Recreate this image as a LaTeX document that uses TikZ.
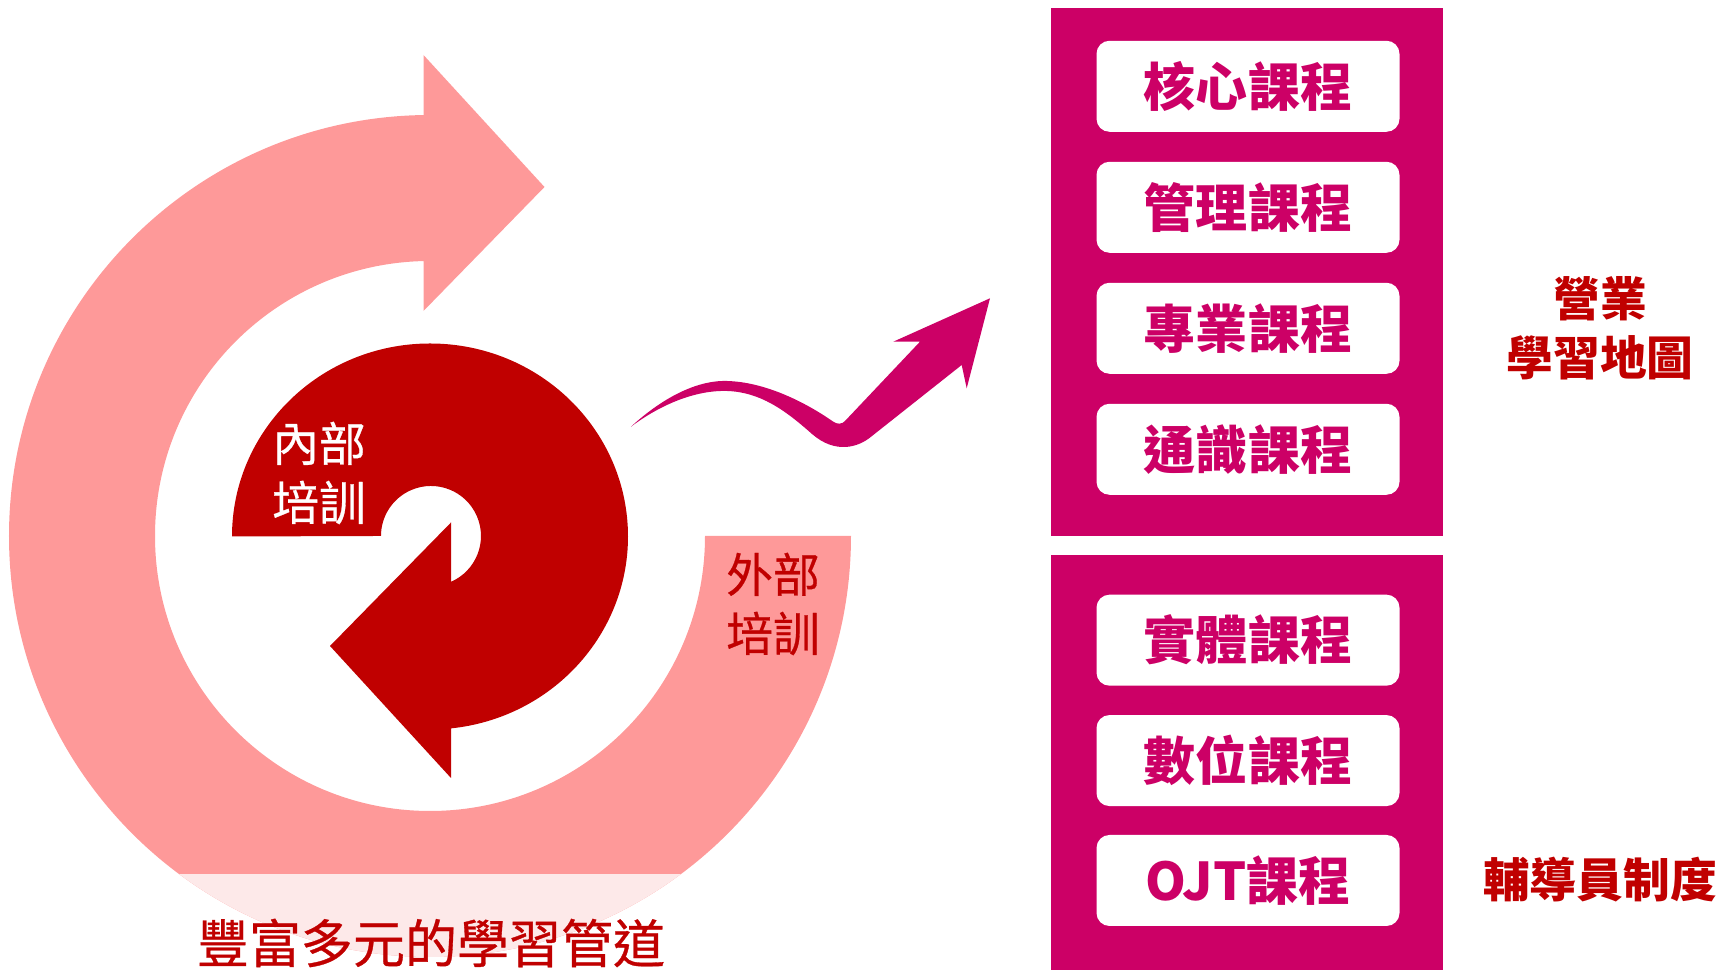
\documentclass[tikz,border=0pt]{standalone}
\usepackage{fontspec}
\setmainfont{Noto Sans CJK TC}
\newfontfamily\cjkmed[FakeBold=0.6]{Noto Sans CJK TC}
\definecolor{ringpink}{RGB}{254,153,153}
\definecolor{ringfade}{RGB}{253,233,233}
\definecolor{deepred}{RGB}{192,0,0}
\definecolor{rose}{RGB}{204,0,102}

\begin{document}
\begin{tikzpicture}[line join=miter]
	\tikzstyle{panel}=[fill=rose];
	\tikzstyle{course}=[fill=white,rounded corners=0.13cm,minimum width=3.03cm,minimum height=0.91cm,inner sep=0pt,text=rose,font=\fontsize{14.8}{17}\selectfont\bfseries];
	\tikzstyle{redlab}=[text=deepred,align=center,inner sep=0pt,font=\fontsize{13.3}{16.7}\selectfont\bfseries];
	\tikzstyle{ringlab}=[align=center,inner sep=0pt,font=\fontsize{13.3}{16.8}\selectfont\cjkmed];

	\useasboundingbox (0,0) rectangle (17.25,9.70);

	% outer ring with its arrow
	\fill[ringpink] (8.51,4.34) arc (0:-270:4.21) -- (4.235,8.55) -- (4.235,9.15) -- (5.445,7.83)
		-- (4.235,6.59) -- (4.235,7.09) -- (4.30,7.09) arc (90:360:2.75) -- cycle;
	\begin{scope}
		\clip (0,0) rectangle (17.25,0.955);
		\fill[ringfade] (4.30,4.34) circle (4.21);
	\end{scope}

	% inner ring with its arrow
	\fill[deepred] (2.32,4.335) arc[start angle=180,end angle=-83.9,x radius=1.98,y radius=1.93]
		-- (4.51,1.92) -- (3.30,3.24) -- (4.51,4.475) -- (4.51,3.882)
		arc[start angle=-66.4,end angle=180,radius=0.5] -- cycle;

	% wavy arrow
	\fill[rose] (6.31,5.433) .. controls (6.6,5.70) and (6.95,5.90) .. (7.27,5.89)
		.. controls (7.65,5.88) and (8.05,5.68) .. (8.33,5.485)
		.. controls (8.37,5.455) and (8.42,5.455) .. (8.45,5.49)
		-- (9.20,6.283) -- (8.933,6.283) -- (9.90,6.717) -- (9.667,5.817) -- (9.617,6.05)
		-- (8.72,5.34) .. controls (8.58,5.22) and (8.35,5.16) .. (8.12,5.36)
		.. controls (7.85,5.60) and (7.6,5.78) .. (7.27,5.79)
		.. controls (6.95,5.80) and (6.6,5.65) .. (6.31,5.433) -- cycle;

	\fill[panel] (10.505,4.343) rectangle (14.43,9.623);
	\fill[panel] (10.505,0)     rectangle (14.43,4.145);

	\node[course] (core) at (12.48,8.837) {核心課程};
	\node[course] (mgmt) at (12.48,7.627) {管理課程};
	\node[course] (prof) at (12.48,6.417) {專業課程};
	\node[course] (gen)  at (12.48,5.207) {通識課程};
	\node[course] (phys) at (12.48,3.298) {實體課程};
	\node[course] (digi) at (12.48,2.094) {數位課程};
	\node[course] (ojt)  at (12.48,0.895) {OJT課程};

	\node[ringlab,text=white]   (inner) at (3.19,4.97) {內部\\培訓};
	\node[ringlab,text=deepred] (outer) at (7.73,3.66) {外部\\培訓};
	\node[redlab] (salesmap) at (16.0,6.42) {營業\\學習地圖};
	\node[redlab] (mentor)   at (16.0,0.90) {輔導員制度};
	\node[ringlab,text=deepred,font=\fontsize{14.8}{17}\selectfont\cjkmed] (title) at (4.31,0.27) {豐富多元的學習管道};
\end{tikzpicture}
\end{document}
